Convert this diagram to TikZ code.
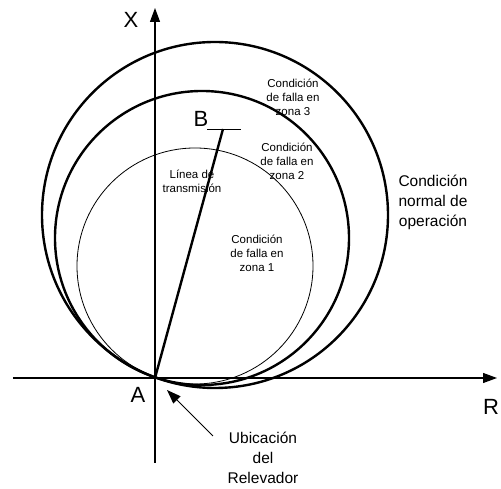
\documentclass[tikz,border=0pt]{standalone}
\usepackage{fontspec}
\setmainfont{Liberation Sans}
\usetikzlibrary{arrows.meta}

\tikzset{
  small/.style={align=center, font=\fontsize{11.5}{14}\selectfont},
  big/.style={align=center, font=\fontsize{15.5}{20}\selectfont},
  axlabel/.style={font=\fontsize{22}{26}\selectfont}
}

\begin{document}
\begin{tikzpicture}[x=1pt, y=1pt, >={Triangle[length=14pt,width=10pt]}]
\useasboundingbox (-155,-111) rectangle (346,378);
% Axes
\coordinate (A) at (0,0);
\draw [->, line width=1.2pt] (-142,0) -- (342,0);
\draw [->, line width=1.2pt] (0,-85) -- (0,370);
\node [axlabel] (xlab) at (-24,358) {X};
\node [axlabel] (rlab) at (336,-29) {R};
\node [axlabel] (alab) at (-17,-17) {A};

% Mho circles
\draw [line width=2.4pt] (60,163) circle (173pt);
\draw [line width=2.4pt] (47,140) circle (147pt);
\draw [line width=0.8pt] (40,112) circle (118pt);

% Transmission line
\coordinate (B) at (68,249);
\draw [line width=2.4pt] (A) -- (B);
\draw [line width=0.9pt] (52,249) -- (86,249);
\node [axlabel] (blab) at (46,259) {B};

% Labels
\node [small] (linea) at (37,197) {Línea de\\transmisión};
\node [small] (zona1) at (102,125) {Condición\\de falla en\\zona 1};
\node [small] (zona2) at (132,217) {Condición\\de falla en\\zona 2};
\node [small] (zona3) at (138,281) {Condición\\de falla en\\zona 3};
\node [big] (normal) at (278,176) {Condición\\normal de\\operación};

% Relay location
\node [big] (relay) at (108,-80) {Ubicación\\del\\Relevador};
\coordinate (tail) at (58,-58);
\coordinate (tip) at (12,-12);
\draw [->, line width=1pt] (tail) -- (tip);
\end{tikzpicture}
\end{document}
